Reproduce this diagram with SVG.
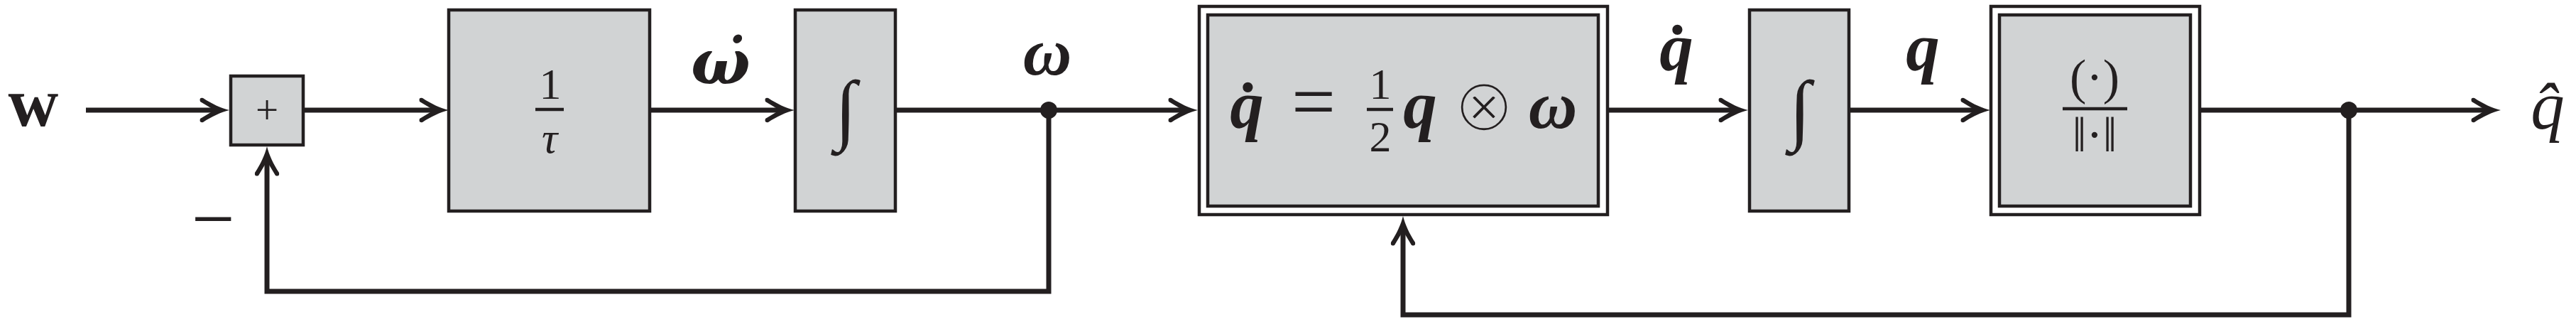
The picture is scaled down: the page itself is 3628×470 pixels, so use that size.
<svg xmlns="http://www.w3.org/2000/svg" width="3628" height="470" viewBox="0 0 3628 470">
<style>
.blk{fill:#d1d3d4;stroke:#231f20;stroke-width:4.5}
.outer{fill:#ffffff;stroke:#231f20;stroke-width:4.5}
.wire{fill:none;stroke:#231f20;stroke-width:7}
.bar{stroke:#231f20;stroke-width:4.5}
.t{font-family:"Liberation Serif","DejaVu Serif",serif;fill:#231f20;text-anchor:middle}
.mb{font-weight:bold;font-style:italic;font-size:95px}
.mi{font-style:italic;font-size:95px}
.sm{font-size:62px}
.dot{fill:#231f20}
</style>
<defs>
<marker id="arr" viewBox="-30 -20 50 40" markerWidth="50" markerHeight="40" refX="0" refY="0" orient="auto" markerUnits="userSpaceOnUse">
<path d="M15,0 C3,-3 -10,-9 -22,-17 Q-28,-18 -26,-12 L-6,0 L-26,12 Q-28,18 -22,17 C-10,9 3,3 15,0 Z" fill="#231f20"/>
</marker>
</defs>

<g id="connectors">
<line class="wire" x1="121" y1="155" x2="308" y2="155" marker-end="url(#arr)"/>
<line class="wire" x1="427" y1="155" x2="617" y2="155" marker-end="url(#arr)"/>
<line class="wire" x1="915" y1="155" x2="1104" y2="155" marker-end="url(#arr)"/>
<line class="wire" x1="1261" y1="155" x2="1672" y2="155" marker-end="url(#arr)"/>
<polyline class="wire" points="1477,155 1477,410 376,410 376,221" marker-end="url(#arr)"/>
<line class="wire" x1="2264" y1="155" x2="2447" y2="155" marker-end="url(#arr)"/>
<line class="wire" x1="2604" y1="155" x2="2788" y2="155" marker-end="url(#arr)"/>
<line class="wire" x1="3098" y1="155" x2="3507" y2="155" marker-end="url(#arr)"/>
<polyline class="wire" points="3308,155 3308,443 1976,443 1976,319" marker-end="url(#arr)"/>
<circle class="dot" cx="1477" cy="155" r="12"/>
<circle class="dot" cx="3308" cy="155" r="12"/>
</g>

<g id="input">
<text class="t" x="47" y="177" style="font-weight:bold;font-size:98px">w</text>
</g>

<g id="sum">
<rect class="blk" x="325" y="107" width="102" height="97"/>
<text class="t" x="376" y="174" style="font-size:57px">+</text>
<text class="t" x="300" y="344" style="font-size:108px">−</text>
</g>

<g id="gain">
<rect class="blk" x="632" y="14" width="283" height="283"/>
<text class="t sm" x="775" y="139">1</text>
<line class="bar" x1="754" y1="154" x2="794" y2="154"/>
<text class="t sm" x="774" y="215" style="font-style:italic">τ</text>
</g>

<g id="label-wdot">
<text class="t mb" x="1015" y="118" style="font-family:'DejaVu Serif',serif;font-size:88px">ω̇</text>
</g>

<g id="integrator1">
<rect class="blk" x="1120" y="14" width="141" height="283"/>
<text class="t" x="1191" y="190" style="font-size:110px">∫</text>
</g>

<g id="label-w">
<text class="t mb" x="1475" y="105">ω</text>
</g>

<g id="kinematics">
<rect class="outer" x="1689" y="9" width="575" height="293"/>
<rect class="blk" x="1701" y="21" width="550" height="269"/>
<text class="t mb" x="1756" y="180">q̇</text>
<text class="t" x="1850" y="180" style="font-size:110px">=</text>
<text class="t sm" x="1944" y="139">1</text>
<line class="bar" x1="1925" y1="154" x2="1962" y2="154"/>
<text class="t sm" x="1944" y="213">2</text>
<text class="t mb" x="2000" y="180">q</text>
<text class="t" x="2090" y="184" style="font-family:'DejaVu Sans',sans-serif;font-size:106px;stroke:#d1d3d4;stroke-width:5">⊗</text>
<text class="t mb" x="2187" y="180">ω</text>
</g>

<g id="label-qdot">
<text class="t mb" x="2361" y="99">q̇</text>
</g>

<g id="integrator2">
<rect class="blk" x="2464" y="14" width="140" height="283"/>
<text class="t" x="2535" y="190" style="font-size:110px">∫</text>
</g>

<g id="label-q">
<text class="t mb" x="2708" y="99">q</text>
</g>

<g id="normalize">
<rect class="outer" x="2804" y="9" width="294" height="293"/>
<rect class="blk" x="2816" y="21" width="269" height="269"/>
<text class="t" x="2950" y="132" style="font-size:70px">(·)</text>
<line class="bar" x1="2905" y1="153" x2="2996" y2="153"/>
<text class="t" x="2950" y="213" style="font-size:70px">‖·‖</text>
</g>

<g id="output">
<text class="t mi" x="3588" y="181">q̂</text>
</g>
</svg>
